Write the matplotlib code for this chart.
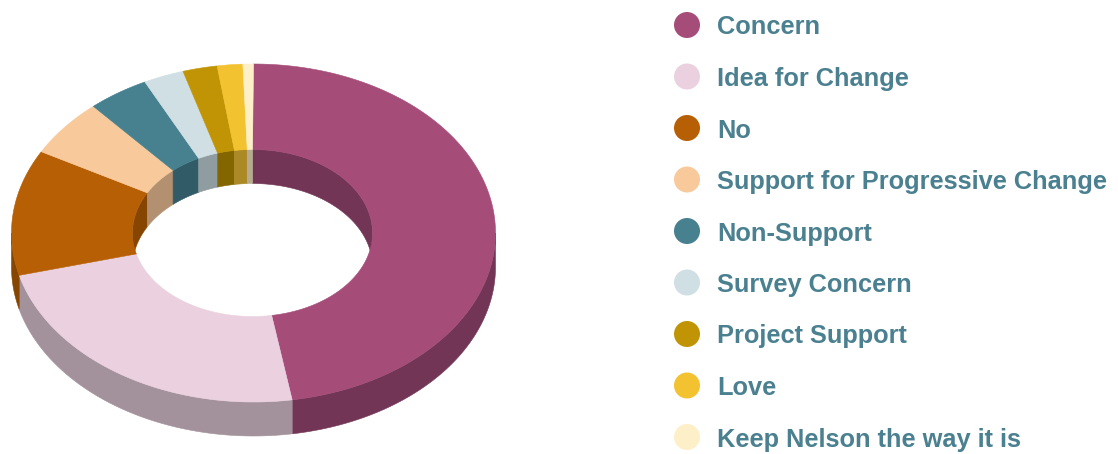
import numpy as np
from matplotlib import pyplot as plt
from matplotlib.patches import Circle, Polygon

labels = [
    "Concern",
    "Idea for Change",
    "No",
    "Support for Progressive Change",
    "Non-Support",
    "Survey Concern",
    "Project Support",
    "Love",
    "Keep Nelson the way it is",
]
shares = [47.4, 23.5, 12.0, 5.5, 4.1, 2.7, 2.3, 1.7, 0.7]
top_colors = [
    "#A54C79",
    "#EBD1DF",
    "#B65F05",
    "#F8C99B",
    "#47808F",
    "#CFDFE3",
    "#C09404",
    "#F2C230",
    "#FDEFC8",
]
side_colors = [
    "#723556",
    "#A3929B",
    "#864500",
    "#B39070",
    "#315B66",
    "#8F9CA0",
    "#846600",
    "#AB8A25",
    "#B5AC90",
]

# ring geometry, in figure pixels
CX, CY = 253.5, 233
CX_IN = 252.5
RX_OUT, RY_OUT = 242, 169
RX_IN, RY_IN = 120, 83.5
DEPTH = 34


def arc(start, stop, rx, ry, shift=0, cx=CX):
    """Points on an ellipse, angles in degrees clockwise from the top."""
    n = max(int(abs(stop - start)) * 2, 2)
    t = np.radians(np.linspace(start, stop, n))
    return np.column_stack([cx + rx * np.sin(t), CY - ry * np.cos(t) + shift])


fig = plt.figure(figsize=(11.18, 4.54), dpi=100)
ax = fig.add_axes([0, 0, 1, 1])
ax.set_xlim(0, 1118)
ax.set_ylim(454, 0)
ax.axis("off")

edges = np.concatenate([[0], np.cumsum(shares)]) * 360 / sum(shares)
slices = list(zip(edges[:-1], edges[1:], top_colors, side_colors))


def add_poly(points, color, zorder):
    ax.add_patch(Polygon(points, closed=True, facecolor=color, edgecolor=color, linewidth=0.4, zorder=zorder))


for start, stop, top, side in slices:
    # inner wall shows across the back half of the hole
    for lo, hi in [(start, min(stop, 90)), (max(start, 270), stop)]:
        if hi > lo:
            add_poly(np.vstack([arc(lo, hi, RX_IN, RY_IN, cx=CX_IN), arc(hi, lo, RX_IN, RY_IN, DEPTH, cx=CX_IN)]), side, 1)
    # outer wall shows across the front half
    lo, hi = max(start, 90), min(stop, 270)
    if hi > lo:
        add_poly(np.vstack([arc(lo, hi, RX_OUT, RY_OUT), arc(hi, lo, RX_OUT, RY_OUT, DEPTH)]), side, 1)

for start, stop, top, side in slices:
    add_poly(np.vstack([arc(start, stop, RX_OUT, RY_OUT), arc(stop, start, RX_IN, RY_IN, cx=CX_IN)]), top, 2)

# legend column
for i, (label, color) in enumerate(zip(labels, top_colors)):
    y = 25 + i * 51.5
    ax.add_patch(Circle((687, y), 13, facecolor=color, edgecolor="none"))
    ax.text(717, y, label, color="#4A8090", fontsize=18.25, fontweight="bold",
            family="Liberation Sans", va="center_baseline", ha="left")

fig.savefig("out.png", dpi=100)
